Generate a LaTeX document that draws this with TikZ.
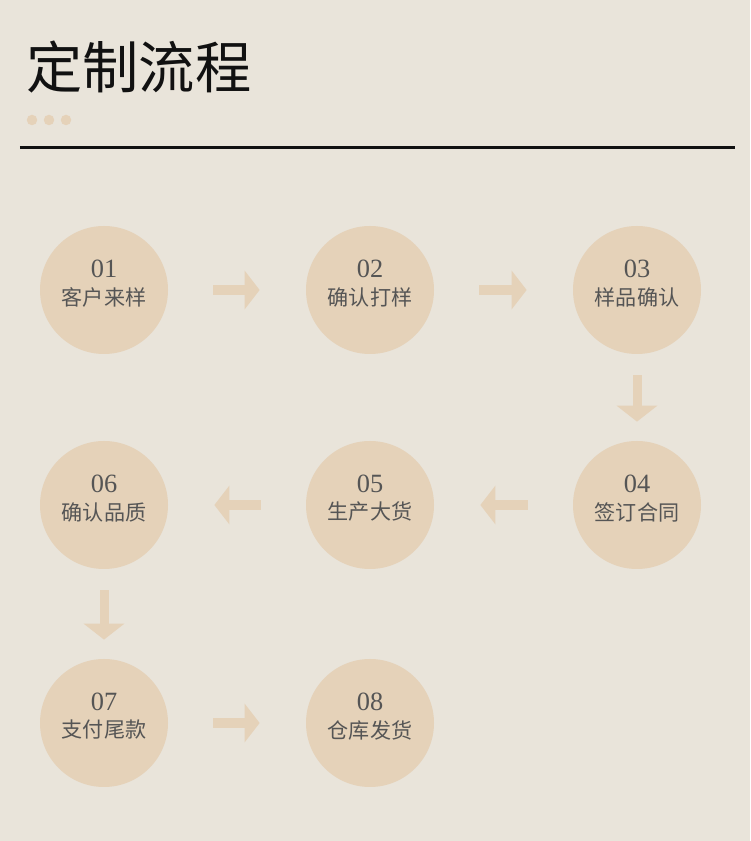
\documentclass[tikz,border=0pt]{standalone}
\usepackage{fontspec}
\setmainfont{Liberation Serif}
\newfontfamily\cjk{Noto Sans CJK SC}
\usetikzlibrary{arrows.meta,positioning}
\definecolor{paper}   {HTML}{E9E4DA}
\definecolor{sand}    {HTML}{E5D2B9}
\definecolor{ink}     {HTML}{111111}
\definecolor{inkgray} {HTML}{555555}
\tikzset{
  stepcircle/.style ={circle, fill=sand, draw=none, minimum size=2.56cm, inner sep=0pt},
  numtext/.style    ={font=\fontsize{15}{15}\selectfont, text=inkgray, inner sep=0pt},
  labtext/.style    ={font=\cjk\fontsize{12}{12}\selectfont, text=inkgray, inner sep=0pt},
  hflow/.style      ={-{Triangle[length=0.3cm,width=0.76cm]}, line width=0.2cm, color=sand,
                      shorten <=0.9cm, shorten >=0.92cm},
  vflow/.style      ={-{Triangle[length=0.32cm,width=0.8cm]}, line width=0.18cm, color=sand,
                      shorten <=0.42cm, shorten >=0.38cm},
}
\begin{document}
\begin{tikzpicture}[x=1cm,y=1cm]
    \fill[paper] (0,0) rectangle (15,16.82);
    \useasboundingbox (0,0) rectangle (15,16.82);

    % title
    \node[anchor=west,inner sep=0pt,font=\cjk\fontsize{32}{32}\selectfont,text=ink] (title) at (0.52,15.48) {定制流程};
    \foreach \i/\x in {1/0.64,2/0.98,3/1.32}
      \fill[sand] (\x,14.42) circle (0.105);
    \draw[ink,line width=0.06cm] (0.4,13.86) -- (14.7,13.86);

    % steps
    \foreach \n/\x/\y/\t in {01/2.08/11.02/客户来样, 02/7.40/11.02/确认打样, 03/12.74/11.02/样品确认,
                             04/12.74/6.72/签订合同, 05/7.40/6.72/生产大货, 06/2.08/6.72/确认品质,
                             07/2.08/2.36/支付尾款, 08/7.40/2.36/仓库发货} {
      \node[stepcircle] (c\n) at (\x,\y) {};
      \node[numtext] (n\n) at ([yshift=0.42cm]c\n.center) {\n};
      \node[labtext] (t\n) at ([yshift=-0.14cm]c\n.center) {\t};
    }

    \draw[hflow] (c01) -- (c02);
    \draw[hflow] (c02) -- (c03);
    \draw[vflow] (c03) -- (c04);
    \draw[hflow] (c04) -- (c05);
    \draw[hflow] (c05) -- (c06);
    \draw[vflow] (c06) -- (c07);
    \draw[hflow] (c07) -- (c08);
  \end{tikzpicture}
\end{document}
